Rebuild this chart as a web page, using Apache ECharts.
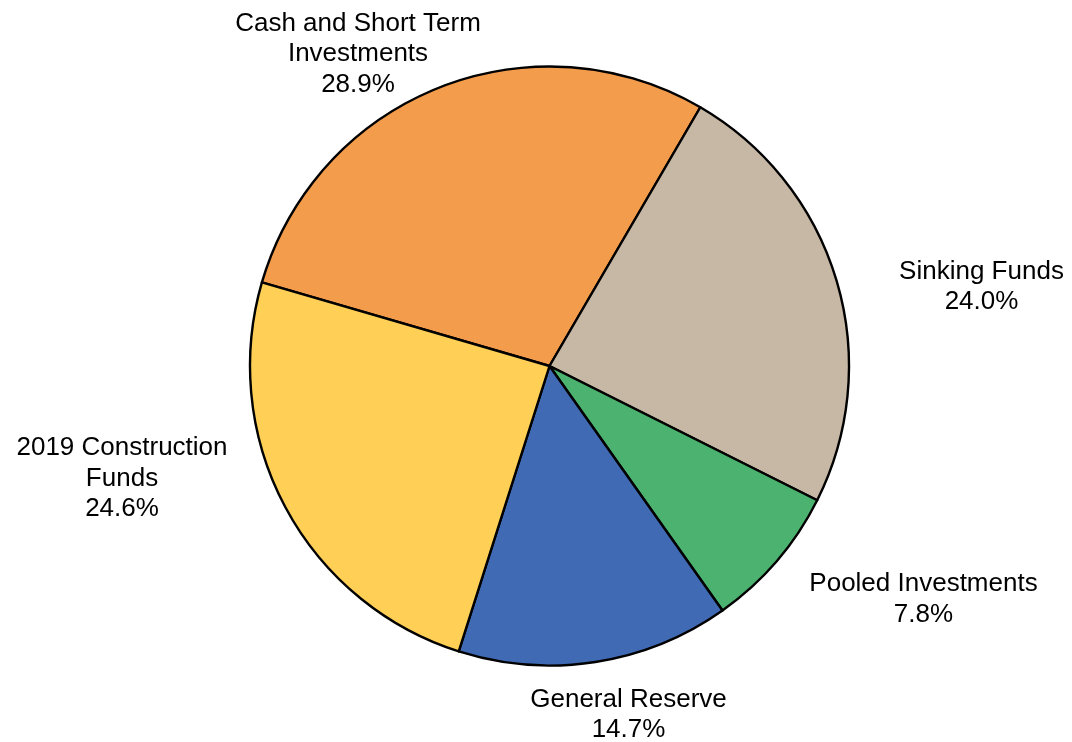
<!DOCTYPE html>
<html>
<head>
<meta charset="utf-8">
<script src="https://cdn.jsdelivr.net/npm/echarts@6/dist/echarts.min.js"></script>
<style>
  html, body { margin: 0; padding: 0; background: #ffffff; }
  #chart { width: 1072px; height: 742px; }
</style>
</head>
<body>
<div id="chart"></div>
<script>
// ---- data ----
const categories = [
  'Cash and Short Term\nInvestments',
  'Sinking Funds',
  'Pooled Investments',
  'General Reserve',
  '2019 Construction\nFunds'
];
const shares = [28.9, 24.0, 7.8, 14.7, 24.6];

// ---- styling / layout (not data) ----
const colors = ['#F39C4B', '#C7B8A5', '#4BB26F', '#406BB4', '#FFD055'];
const labelCenters = [[358, 54], [981.5, 287], [923.5, 599.5], [628.5, 715], [122, 478.5]];

const chart = echarts.init(document.getElementById('chart'), null, { renderer: 'canvas' });

chart.setOption({
  animation: false,
  backgroundColor: '#ffffff',
  series: [{
    type: 'pie',
    center: [549.5, 366],
    radius: [0, 299.5],
    startAngle: 163.8,
    clockwise: true,
    avoidLabelOverlap: false,
    itemStyle: { borderColor: '#000000', borderWidth: 2.4 },
    label: {
      show: true,
      position: 'outside',
      color: '#000000',
      fontFamily: 'Liberation Sans, Arial, sans-serif',
      fontSize: 26,
      lineHeight: 30.5,
      formatter: p => p.name + '\n' + p.value.toFixed(1) + '%'
    },
    labelLine: { show: false },
    labelLayout: params => ({
      x: labelCenters[params.dataIndex][0],
      y: labelCenters[params.dataIndex][1],
      align: 'center',
      verticalAlign: 'middle'
    }),
    emphasis: { disabled: true },
    data: categories.map((c, i) => ({
      name: c,
      value: shares[i],
      itemStyle: { color: colors[i] }
    }))
  }]
});
</script>
</body>
</html>
